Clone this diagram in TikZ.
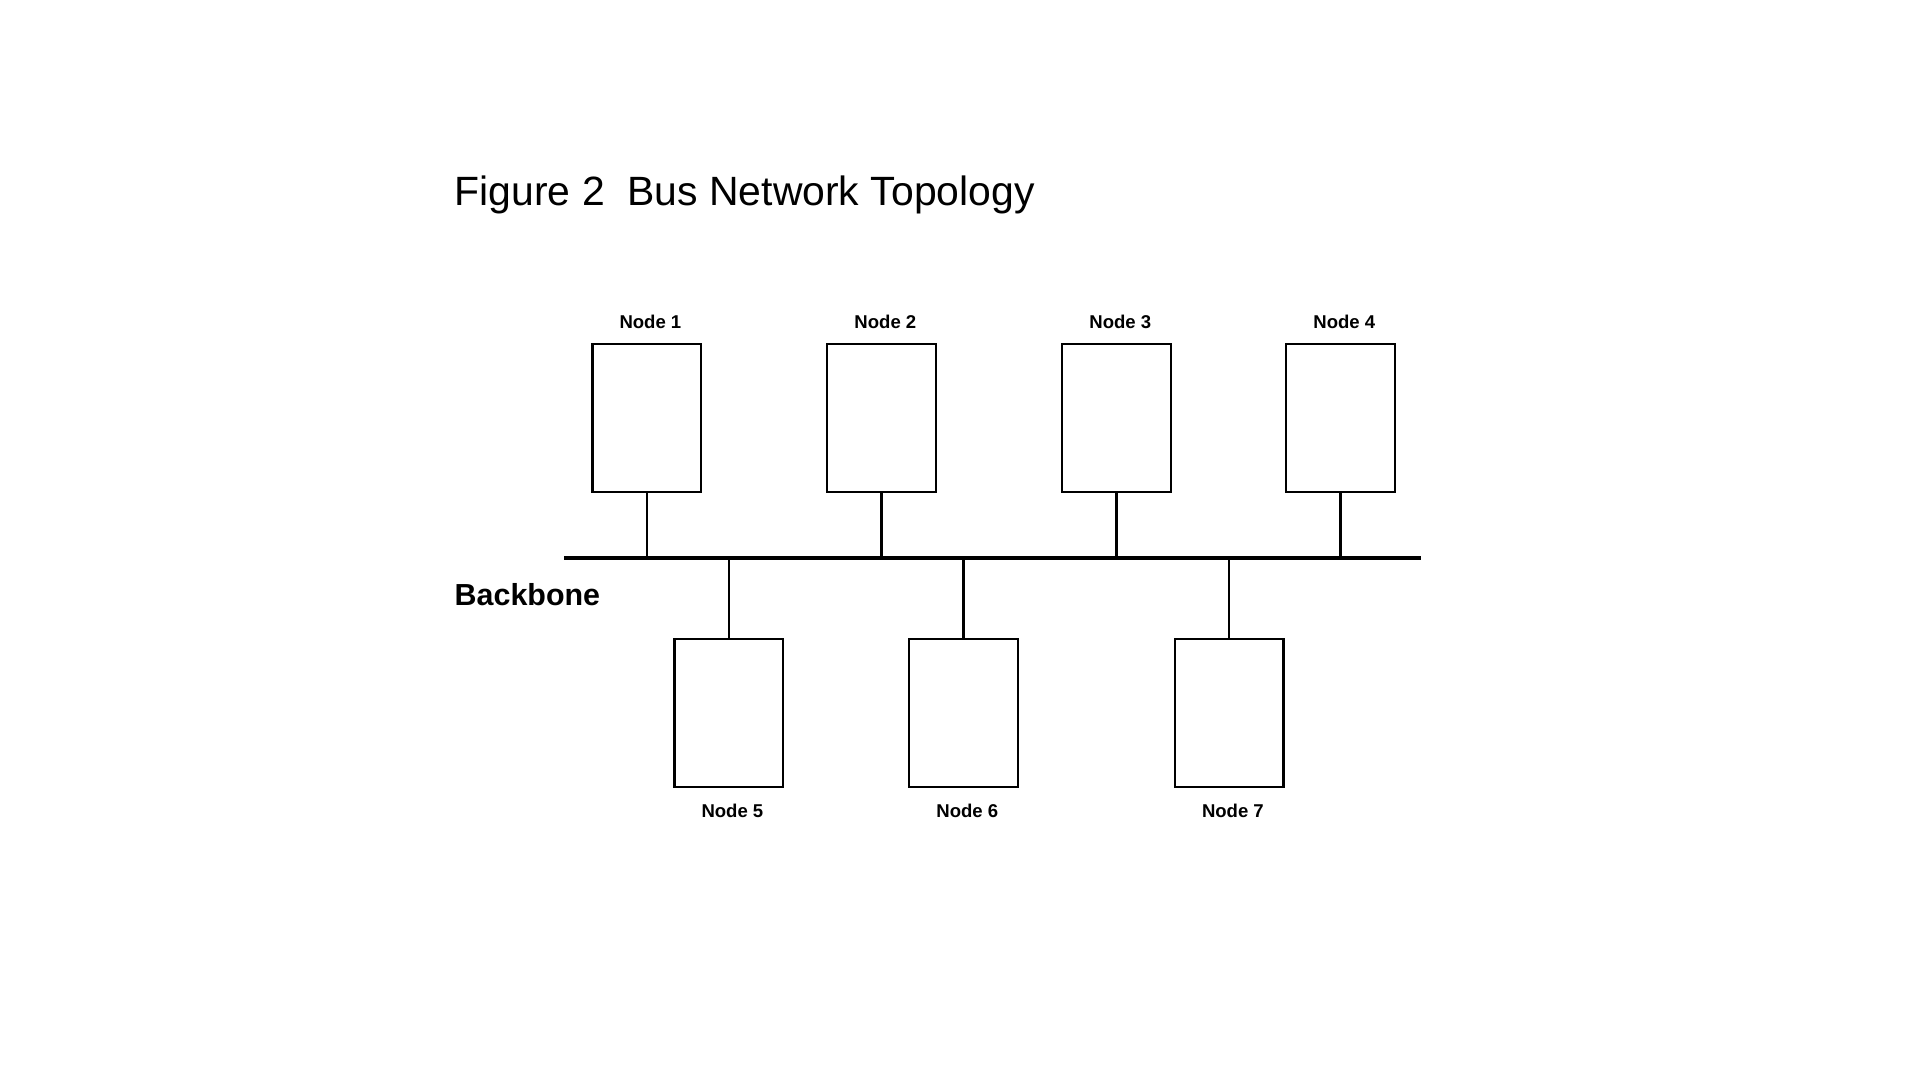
\documentclass[tikz,border=0pt]{standalone}
\usepackage{fontspec}
\setmainfont{Liberation Sans}
\begin{document}
\begin{tikzpicture}[x=0.012292cm,y=-0.012292cm,
  box/.style={draw,line width=0.7pt,minimum width=89*0.012292cm,minimum height=121*0.012292cm,inner sep=0pt},
  lab/.style={font=\fontsize{5.3}{6}\selectfont\bfseries,inner sep=0pt},
  wire/.style={line width=0.7pt}]
\useasboundingbox (-1,-1) rectangle (1568,882);
\node[anchor=west,inner sep=0pt,font=\fontsize{11.7}{14}\selectfont] (title) at (370,158) {Figure 2\ \ Bus Network Topology};
\coordinate (bl) at (460,455); \coordinate (br) at (1160,455);
\draw[line width=1.4pt] (bl) -- (br);
\node[anchor=west,inner sep=0pt,font=\fontsize{8.7}{10}\selectfont\bfseries] (bb) at (370,485) {Backbone};
\foreach \n/\x in {1/527.5,2/719.5,3/911.5,4/1094.5}{
  \node[box] (n\n) at (\x,340.5) {};
  \node[lab] (l\n) at (\x+3,262) {Node \n};
  \coordinate (t\n) at (\x,455);
  \draw[wire] (n\n.south) -- (t\n);
}
\foreach \n/\x in {5/594.5,6/786.5,7/1003.5}{
  \node[box] (n\n) at (\x,581.5) {};
  \node[lab] (l\n) at (\x+3,662) {Node \n};
  \coordinate (t\n) at (\x,455);
  \draw[wire] (t\n) -- (n\n.north);
}
\end{tikzpicture}
\end{document}
